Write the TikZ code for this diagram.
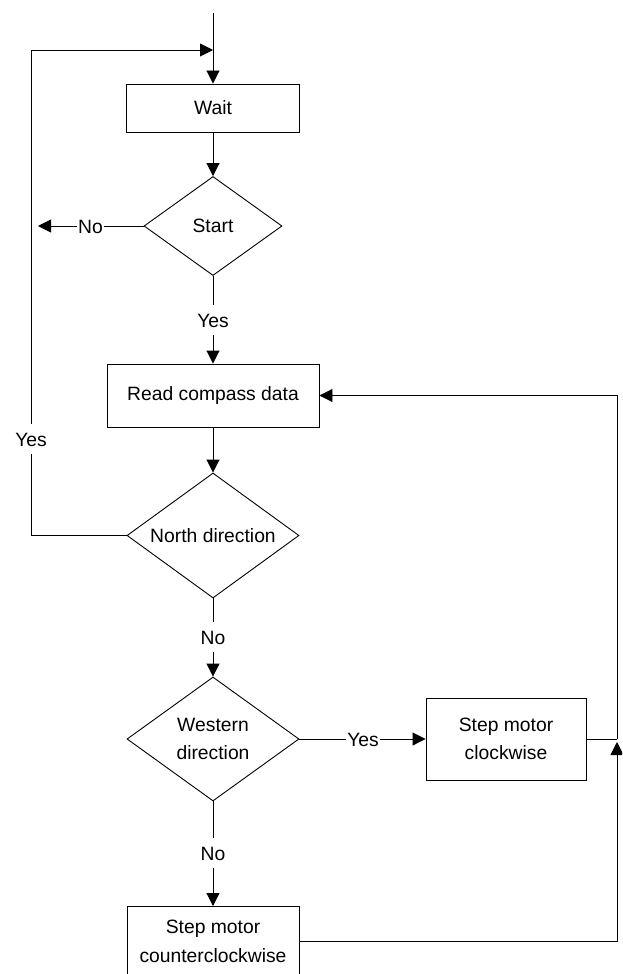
\documentclass[tikz,border=0pt]{standalone}
\usepackage{fontspec}
\setmainfont{Liberation Sans}
\usetikzlibrary{shapes.geometric,arrows.meta}

\begin{document}
\begin{tikzpicture}[x=1pt,y=-1pt,
  txt/.style={font=\fontsize{19.3}{28.5}\selectfont},
  proc/.style={txt, draw, rectangle, line width=0.9pt, inner sep=0pt, align=center},
  dec/.style={txt, draw, diamond, aspect=1.38, line width=0.9pt, inner sep=0pt, align=center},
  flow/.style={line width=0.9pt, -{Triangle[length=13pt,width=13pt]}},
  conn/.style={line width=0.9pt},
  tag/.style={txt, fill=white, inner xsep=1pt, inner ysep=8pt, text height=14pt, text depth=0pt}
]
\useasboundingbox (0,0) rectangle (622,974);
\clip (0,0) rectangle (622,974);

% process boxes and decisions
\node[proc, minimum width=173pt, minimum height=48pt] (wait) at (213,108) {Wait};
\node[dec, minimum width=138pt, minimum height=99pt] (start) at (213,226) {Start};
\node[proc, minimum width=212pt, minimum height=63pt] (read) at (213,395.5) {Read compass data};
\node[dec, minimum width=172pt, minimum height=125pt] (north) at (213,535.5) {North direction};
\node[dec, minimum width=172pt, minimum height=124pt] (west) at (213,739) {Western\\direction};
\node[proc, minimum width=160pt, minimum height=82pt] (cw) at (506,739) {Step motor\\clockwise};
\node[proc, minimum width=172pt, minimum height=70pt] (ccw) at (213,941.5) {Step motor\\counterclockwise};

% helper points for the loops
\coordinate (entry) at (213,13);
\coordinate (merge) at (213,50);
\coordinate (loopL) at (31,50);
\coordinate (noEnd) at (38,226);
\coordinate (rightJ) at (617,739);
\coordinate (rightIn) at (617,742);

% main flow
\draw[flow] (entry) -- (wait.north);
\draw[flow] (wait.south) -- (start.north);
\draw[flow] (start.south) -- (read.north);
\draw[flow] (read.south) -- (north.north);
\draw[flow] (north.south) -- (west.north);
\draw[flow] (west.east) -- (cw.west);
\draw[flow] (west.south) -- (ccw.north);

% branches and returns
\draw[flow] (start.west) -- (noEnd);
\draw[flow] (north.west) -| (loopL) -- (merge);
\draw[conn] (cw.east) -- (rightJ);
\draw[flow] (rightJ) |- (read.east);
\draw[flow] (ccw.east) -| (rightIn);

% branch labels
\node[tag] (tNo1) at (90.5,226) {No};
\node[tag] (tYes1) at (213,320) {Yes};
\node[tag] (tYes2) at (31,439) {Yes};
\node[tag] (tNo2) at (213,637) {No};
\node[tag] (tYes3) at (363,739) {Yes};
\node[tag] (tNo3) at (213,853) {No};
\end{tikzpicture}
\end{document}
